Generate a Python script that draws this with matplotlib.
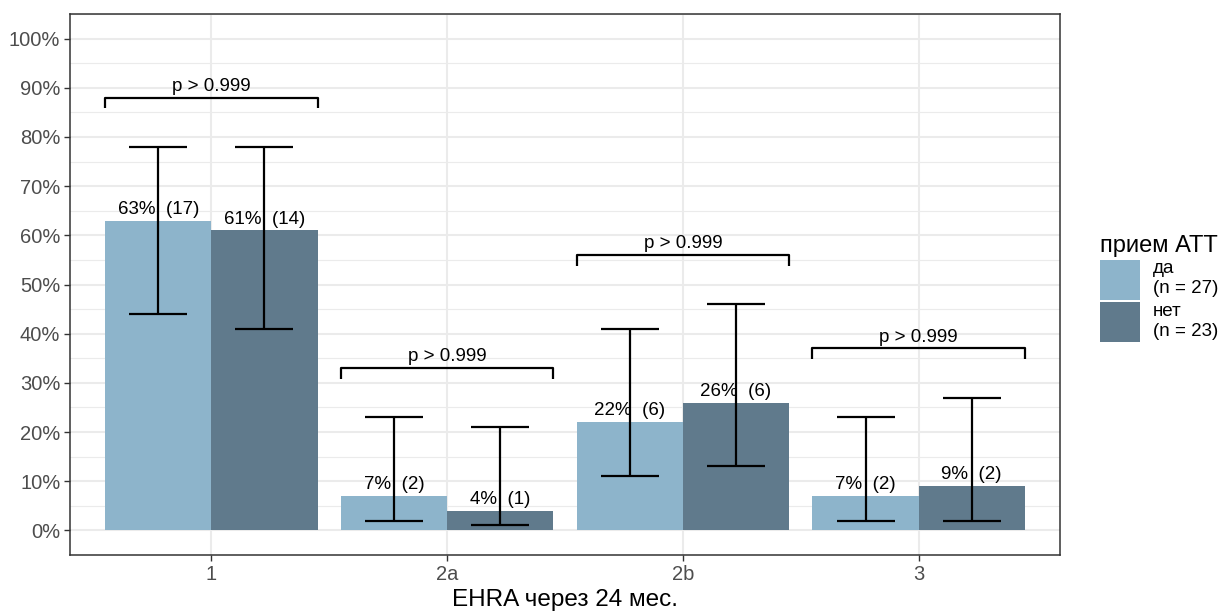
import numpy as np
import matplotlib.pyplot as plt
from matplotlib.patches import Patch
from matplotlib.ticker import MultipleLocator, FuncFormatter

plt.rcParams['font.family'] = ['Liberation Sans', 'DejaVu Sans']

categories = ['1', '2a', '2b', '3']
groups = ['да\n(n = 27)', 'нет\n(n = 23)']
colors = ['#8db4cb', '#607a8c']

pct = [[63, 7, 22, 7], [61, 4, 26, 9]]
counts = [[17, 2, 6, 2], [14, 1, 6, 2]]
ci_low = [[44, 2, 11, 2], [41, 1, 13, 2]]
ci_high = [[78, 23, 41, 23], [78, 21, 46, 27]]
p_labels = ['p > 0.999', 'p > 0.999', 'p > 0.999', 'p > 0.999']

width = 0.45
x = np.arange(len(categories))

fig = plt.figure(figsize=(12.23, 6.13), dpi=100)
ax = fig.add_axes([70 / 1223, 1 - 555 / 613, 990 / 1223, 541 / 613])

grid_c = '#ebebeb'
ax.set_axisbelow(True)
ax.yaxis.set_major_locator(MultipleLocator(10))
ax.yaxis.set_minor_locator(MultipleLocator(5))
ax.grid(True, which='major', color=grid_c, linewidth=1.5)
ax.grid(True, which='minor', axis='y', color=grid_c, linewidth=0.8)

for g in range(2):
    xs = x + (g - 0.5) * width
    ax.bar(xs, pct[g], width=width, color=colors[g], label=groups[g], zorder=2)
    lo = np.array(pct[g]) - np.array(ci_low[g])
    hi = np.array(ci_high[g]) - np.array(pct[g])
    ax.errorbar(xs, pct[g], yerr=[lo, hi], fmt='none', ecolor='black',
                elinewidth=1.6, capsize=21, capthick=1.6, zorder=3)
    for xi, v, n in zip(xs, pct[g], counts[g]):
        ax.annotate(f'{v}%  ({n})', (xi, v), xytext=(0, 2), textcoords='offset points',
                    ha='center', va='bottom', fontsize=13.5, color='black', zorder=4)

# significance brackets above each category
tip = 2.2
for i, lab in enumerate(p_labels):
    top = max(ci_high[0][i], ci_high[1][i]) + 10
    x0, x1 = x[i] - width, x[i] + width
    ax.plot([x0, x0, x1, x1], [top - tip, top, top, top - tip], color='black',
            linewidth=1.6, zorder=4, solid_capstyle='butt')
    ax.annotate(lab, (x[i], top), xytext=(0, 2), textcoords='offset points',
                ha='center', va='bottom', fontsize=13.5)

ax.set_xlim(-0.6, 3.6)
ax.set_ylim(-5, 105)
ax.set_xticks(x)
ax.set_xticklabels(categories)
ax.yaxis.set_major_formatter(FuncFormatter(lambda v, _: f'{v:.0f}%'))
ax.tick_params(axis='both', which='major', labelsize=14.5, labelcolor='#4d4d4d',
               color='#333333', length=4, width=1, pad=3)
ax.tick_params(axis='y', which='minor', length=0)
for s in ax.spines.values():
    s.set_color('#333333')
    s.set_linewidth(1.1)

fig.text(565 / 1223, 1 - 600 / 613, 'EHRA через 24 мес.', ha='center', va='center', fontsize=17.5)

handles = [Patch(facecolor=c, edgecolor='none') for c in colors]
leg = fig.legend(handles, groups, loc='upper left', bbox_to_anchor=(1083 / 1223, 1 - 218 / 613),
                 frameon=False, title='прием АТТ', title_fontsize=17, fontsize=13.5,
                 handlelength=2.13, handleheight=2.9, handletextpad=0.7, labelspacing=0.15,
                 alignment='left')

fig.savefig('out.png', dpi=100)
